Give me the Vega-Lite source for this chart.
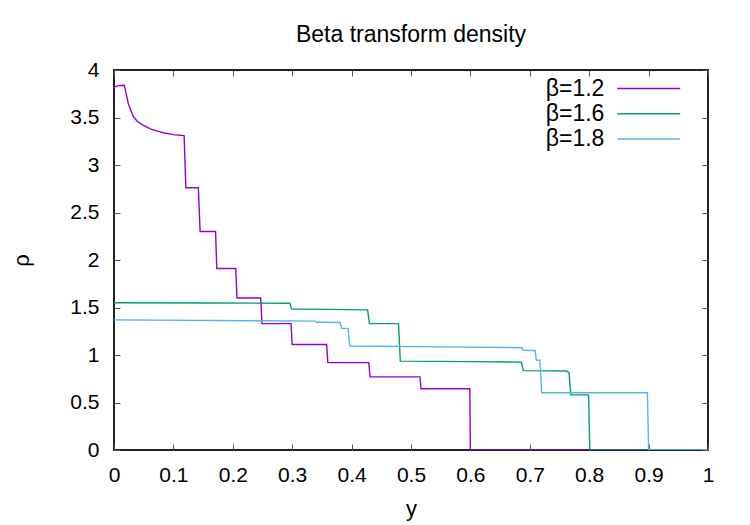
{
  "$schema": "https://vega.github.io/schema/vega-lite/v6.json",
  "autosize": {"type": "none"},
  "padding": {"left": 114, "top": 70, "right": 42, "bottom": 75},
  "width": 594,
  "height": 380,
  "background": "white",
  "title": {
    "text": "Beta transform density",
    "font": "Liberation Sans",
    "fontSize": 23,
    "fontWeight": "normal",
    "color": "black",
    "anchor": "middle",
    "baseline": "alphabetic",
    "offset": -6
  },
  "data": {
    "values": [
      {"beta": "β=1.2", "y": 0, "rho": 3.82},
      {"beta": "β=1.2", "y": 0.008, "rho": 3.835},
      {"beta": "β=1.2", "y": 0.017, "rho": 3.84},
      {"beta": "β=1.2", "y": 0.019, "rho": 3.79},
      {"beta": "β=1.2", "y": 0.024, "rho": 3.65},
      {"beta": "β=1.2", "y": 0.028, "rho": 3.58},
      {"beta": "β=1.2", "y": 0.0325, "rho": 3.51},
      {"beta": "β=1.2", "y": 0.039, "rho": 3.46},
      {"beta": "β=1.2", "y": 0.049, "rho": 3.42},
      {"beta": "β=1.2", "y": 0.061, "rho": 3.38},
      {"beta": "β=1.2", "y": 0.072, "rho": 3.36},
      {"beta": "β=1.2", "y": 0.083, "rho": 3.34},
      {"beta": "β=1.2", "y": 0.1, "rho": 3.32},
      {"beta": "β=1.2", "y": 0.118, "rho": 3.31},
      {"beta": "β=1.2", "y": 0.121, "rho": 2.76},
      {"beta": "β=1.2", "y": 0.142, "rho": 2.76},
      {"beta": "β=1.2", "y": 0.145, "rho": 2.3},
      {"beta": "β=1.2", "y": 0.171, "rho": 2.3},
      {"beta": "β=1.2", "y": 0.173, "rho": 1.91},
      {"beta": "β=1.2", "y": 0.205, "rho": 1.91},
      {"beta": "β=1.2", "y": 0.207, "rho": 1.6},
      {"beta": "β=1.2", "y": 0.247, "rho": 1.6},
      {"beta": "β=1.2", "y": 0.249, "rho": 1.33},
      {"beta": "β=1.2", "y": 0.298, "rho": 1.33},
      {"beta": "β=1.2", "y": 0.3, "rho": 1.11},
      {"beta": "β=1.2", "y": 0.358, "rho": 1.11},
      {"beta": "β=1.2", "y": 0.36, "rho": 0.92},
      {"beta": "β=1.2", "y": 0.429, "rho": 0.92},
      {"beta": "β=1.2", "y": 0.431, "rho": 0.77},
      {"beta": "β=1.2", "y": 0.515, "rho": 0.77},
      {"beta": "β=1.2", "y": 0.517, "rho": 0.645},
      {"beta": "β=1.2", "y": 0.599, "rho": 0.645},
      {"beta": "β=1.2", "y": 0.6, "rho": 0},
      {"beta": "β=1.2", "y": 1, "rho": 0},

      {"beta": "β=1.6", "y": 0, "rho": 1.55},
      {"beta": "β=1.6", "y": 0.15, "rho": 1.548},
      {"beta": "β=1.6", "y": 0.296, "rho": 1.544},
      {"beta": "β=1.6", "y": 0.299, "rho": 1.484},
      {"beta": "β=1.6", "y": 0.36, "rho": 1.48},
      {"beta": "β=1.6", "y": 0.427, "rho": 1.475},
      {"beta": "β=1.6", "y": 0.43, "rho": 1.33},
      {"beta": "β=1.6", "y": 0.479, "rho": 1.33},
      {"beta": "β=1.6", "y": 0.482, "rho": 0.935},
      {"beta": "β=1.6", "y": 0.6, "rho": 0.93},
      {"beta": "β=1.6", "y": 0.686, "rho": 0.925},
      {"beta": "β=1.6", "y": 0.689, "rho": 0.835},
      {"beta": "β=1.6", "y": 0.762, "rho": 0.832},
      {"beta": "β=1.6", "y": 0.766, "rho": 0.815},
      {"beta": "β=1.6", "y": 0.769, "rho": 0.58},
      {"beta": "β=1.6", "y": 0.799, "rho": 0.58},
      {"beta": "β=1.6", "y": 0.801, "rho": 0},
      {"beta": "β=1.6", "y": 1, "rho": 0},

      {"beta": "β=1.8", "y": 0, "rho": 1.37},
      {"beta": "β=1.8", "y": 0.246, "rho": 1.36},
      {"beta": "β=1.8", "y": 0.338, "rho": 1.357},
      {"beta": "β=1.8", "y": 0.341, "rho": 1.345},
      {"beta": "β=1.8", "y": 0.381, "rho": 1.342},
      {"beta": "β=1.8", "y": 0.383, "rho": 1.28},
      {"beta": "β=1.8", "y": 0.394, "rho": 1.28},
      {"beta": "β=1.8", "y": 0.397, "rho": 1.095},
      {"beta": "β=1.8", "y": 0.55, "rho": 1.085},
      {"beta": "β=1.8", "y": 0.687, "rho": 1.077},
      {"beta": "β=1.8", "y": 0.689, "rho": 1.05},
      {"beta": "β=1.8", "y": 0.709, "rho": 1.047},
      {"beta": "β=1.8", "y": 0.711, "rho": 0.947},
      {"beta": "β=1.8", "y": 0.717, "rho": 0.945},
      {"beta": "β=1.8", "y": 0.72, "rho": 0.603},
      {"beta": "β=1.8", "y": 0.898, "rho": 0.603},
      {"beta": "β=1.8", "y": 0.9, "rho": 0},
      {"beta": "β=1.8", "y": 1, "rho": 0}
    ]
  },
  "layer": [
    {
      "mark": {"type": "line", "strokeWidth": 1.4, "clip": true},
      "encoding": {
        "x": {
          "field": "y", "type": "quantitative",
          "scale": {"domain": [0, 1], "nice": false, "zero": false},
          "axis": {
            "orient": "bottom",
            "title": "y",
            "values": [0, 0.1, 0.2, 0.3, 0.4, 0.5, 0.6, 0.7, 0.8, 0.9, 1],
            "format": "~g",
            "labelPadding": 20,
            "labelFlush": false,
            "titleBaseline": "alphabetic",
            "titleY": 65
          }
        },
        "y": {
          "field": "rho", "type": "quantitative",
          "scale": {"domain": [0, 4], "nice": false, "zero": true},
          "axis": {
            "orient": "left",
            "title": "ρ",
            "values": [0, 0.5, 1, 1.5, 2, 2.5, 3, 3.5, 4],
            "format": "~g",
            "labelPadding": 21,
            "labelFlush": false,
            "titleBaseline": "alphabetic",
            "titleX": -86
          }
        },
        "color": {
          "field": "beta", "type": "nominal",
          "scale": {
            "domain": ["β=1.2", "β=1.6", "β=1.8"],
            "range": ["#9400D3", "#009E73", "#56B4E9"]
          },
          "legend": {
            "title": null,
            "orient": "none",
            "legendX": 523.2,
            "legendY": 7,
            "padding": 0,
            "symbolType": "M-5,0L5,0",
            "symbolSize": 158.76,
            "symbolStrokeWidth": 1.5,
            "rowPadding": 1.2,
            "labelAlign": "right",
            "labelOffset": -55.8,
            "labelFont": "Liberation Sans",
            "labelFontSize": 23,
            "labelColor": "black"
          }
        }
      }
    },
    {
      "mark": {"type": "point", "opacity": 0},
      "encoding": {
        "x": {
          "field": "y", "type": "quantitative",
          "axis": {
            "orient": "top", "title": null, "labels": false,
            "values": [0, 0.1, 0.2, 0.3, 0.4, 0.5, 0.6, 0.7, 0.8, 0.9, 1]
          }
        },
        "y": {
          "field": "rho", "type": "quantitative",
          "axis": {
            "orient": "right", "title": null, "labels": false,
            "values": [0, 0.5, 1, 1.5, 2, 2.5, 3, 3.5, 4]
          }
        }
      }
    }
  ],
  "resolve": {"axis": {"x": "independent", "y": "independent"}},
  "config": {
    "view": {"stroke": "#222", "strokeWidth": 2},
    "axis": {
      "domain": false,
      "grid": false,
      "tickSize": -6,
      "tickColor": "#555",
      "tickWidth": 1,
      "labelFont": "Liberation Sans",
      "labelFontSize": 21,
      "labelColor": "black",
      "titleFont": "Liberation Sans",
      "titleFontSize": 22,
      "titleFontWeight": "normal",
      "titleColor": "black"
    }
  }
}
